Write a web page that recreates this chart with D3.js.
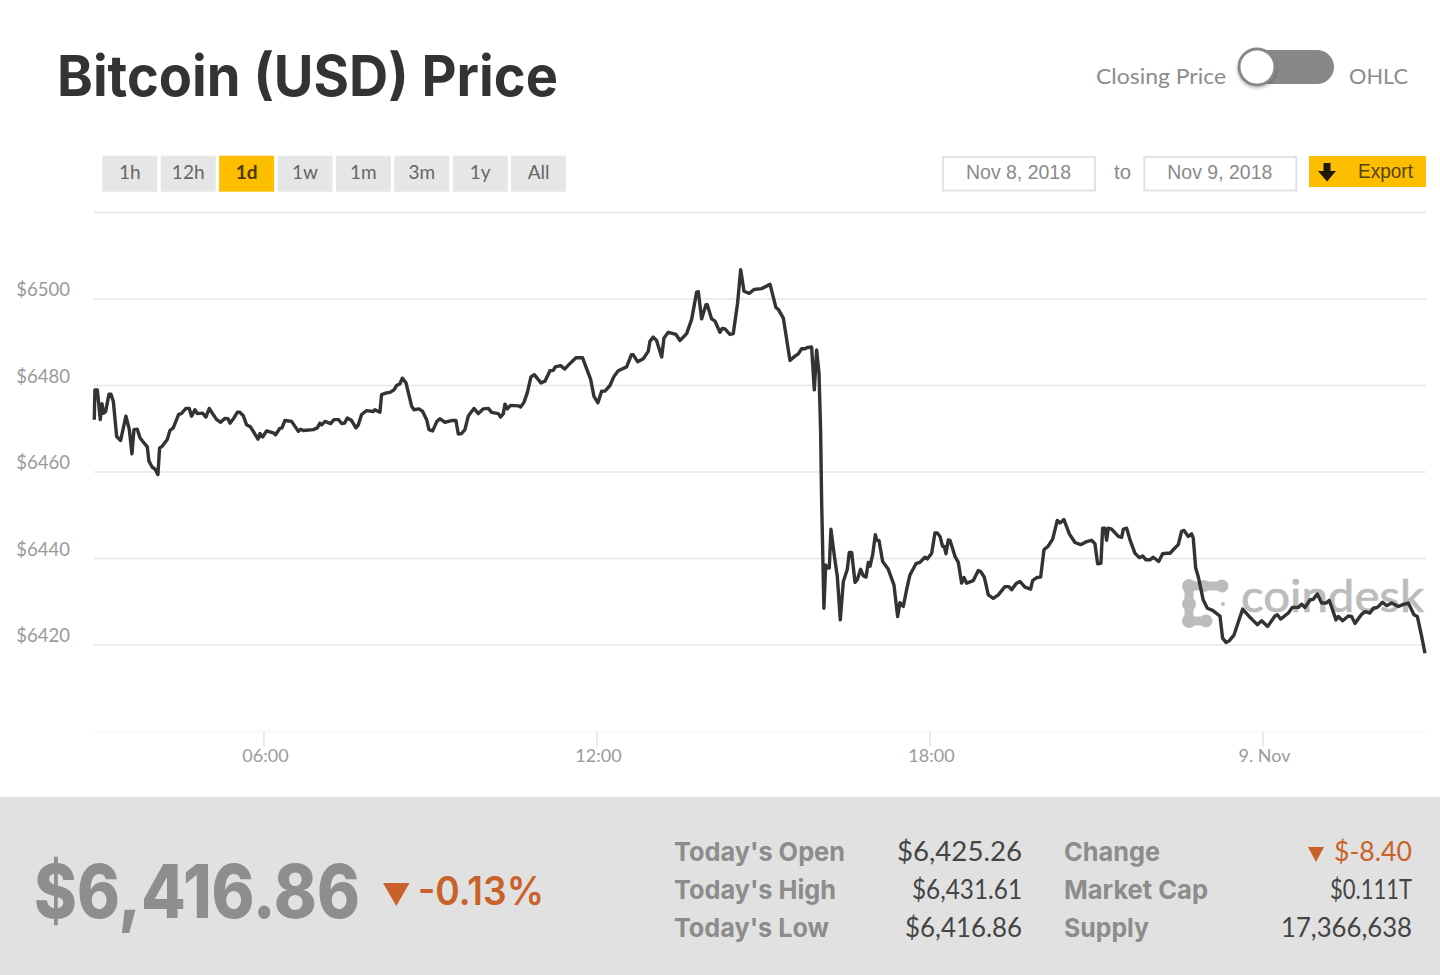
<!DOCTYPE html>
<html>
<head>
<meta charset="utf-8">
<title>Bitcoin (USD) Price</title>
<script src="https://cdn.jsdelivr.net/npm/d3@7"></script>
<style>
  body { margin: 0; background: #fff; }
  svg { display: block; }
  text { font-family: Lato, "Open Sans", sans-serif; }
</style>
</head>
<body>
<div id="chart"></div>
<script>
// Data
// ================================
// minutes since midnight of Nov 8
var minutes = [
  177.1,177.8,180.4,183.6,185.4,187.2,189.4,193.0,195.1,197.7,201.3,205.6,211.3,215.0,217.8,220.0,223.6,226.5,229.4,234.4,
  236.2,239.8,242.7,245.9,247.7,250.3,256.0,258.9,262.5,268.3,271.2,276.2,279.8,282.3,285.9,288.5,294.2,297.8,301.4,305.0,
  309.4,313.7,318.4,321.6,323.8,328.1,331.7,334.6,338.2,341.8,346.1,354.1,356.2,359.1,363.4,371.4,373.1,377.8,380.0,383.2,
  390.4,397.7,400.2,403.1,413.9,418.2,421.1,422.9,426.5,432.6,436.2,441.3,444.5,447.7,450.6,455.3,460.0,462.5,466.1,471.5,
  478.7,480.5,485.9,487.7,493.1,496.8,501.1,504.0,507.6,510.1,514.1,520.2,522.7,528.1,532.1,536.4,538.9,542.9,547.2,550.8,
  556.2,563.4,568.1,570.6,574.2,577.8,581.4,
  583.3,587.6,592.3,597.7,603.1,606.7,613.9,616.4,619.3,621.1,623.6,627.2,635.5,638.0,641.6,645.2,649.2,652.8,660.0,664.3,
  669.7,673.3,675.5,681.3,685.6,691.4,697.8,705.0,713.7,717.3,721.6,725.6,729.2,734.6,738.9,743.6,752.6,757.7,759.8,764.5,
  770.6,776.0,777.8,781.4,785.0,790.5,793.0,797.7,806.0,810.3,817.5,822.9,828.3,830.1,833.7,838.4,839.8,844.5,848.1,853.5,
  856.0,858.9,864.3,867.9,872.6,875.9,879.5,885.2,890.3,898.6,907.6,914.1,916.6,922.0,929.2,934.6,938.2,941.8,945.4,948.0,
  952.6,955.5,958.0,960.6,962.3,
  963.4,965.9,967.8,969.6,971.7,973.5,976.8,980.4,983.6,986.9,991.2,993.3,995.9,999.5,1002.0,1005.6,1008.5,1011.4,1013.9,1015.7,
  1018.6,1021.5,1022.9,1025.4,1029.4,1035.5,1041.6,1045.6,1048.1,1051.7,1055.3,1058.9,1065.4,1069.7,1075.1,1077.7,1082.4,1085.9,1088.5,1091.4,
  1094.2,1096.0,1097.8,1100.4,1102.2,1107.6,1111.2,1114.8,1117.3,1120.2,1127.4,1132.8,1135.3,1139.3,1143.6,1149.0,1154.4,1161.6,1165.9,1168.8,
  1174.2,1177.8,1183.2,1189.4,1191.5,1195.9,1200.2,1203.8,1208.5,1213.2,1218.2,1221.1,1225.4,1231.2,1237.3,1243.4,1249.9,1255.3,1258.9,1261.8,
  1265.4,1267.2,1269.7,1271.5,1273.3,1276.9,1284.2,1287.8,1289.6,1293.2,1296.8,
  1302.2,1306.9,1310.5,1314.1,1318.4,1322.0,1327.8,1332.1,1336.4,1340.0,1344.3,1349.0,1352.6,1355.2,1359.8,1363.4,1365.2,1367.8,1370.6,1376.0,
  1380.4,1386.1,1394.1,1396.9,1400.6,1404.2,1409.2,1418.6,1426.5,1434.4,1439.1,1445.6,1453.5,1456.1,1459.7,1468.0,1472.3,1478.8,1482.4,1486.0,
  1491.4,1495.0,1499.3,1504.0,1508.7,1512.3,1519.5,1522.0,1526.7,1532.8,1536.4,1540.0,1547.2,1550.8,1556.2,1559.8,1564.2,1569.9,1574.3,1579.7,
  1586.9,1592.3,1597.7,1603.8,1607.4,1612.1,1615.7
];

var prices = [
  6472.1,6479.0,6479.0,6472.1,6475.8,6473.6,6474.0,6478.0,6478.0,6476.3,6468.2,6467.3,6472.9,6469.8,6464.2,6469.8,6469.9,6467.9,6467.1,6465.8,
  6462.5,6461.1,6460.7,6459.4,6465.5,6465.9,6467.5,6469.6,6470.2,6473.3,6473.5,6474.7,6474.7,6472.9,6474.4,6473.5,6473.6,6472.7,6474.7,6473.5,
  6472.1,6471.5,6472.4,6472.3,6471.3,6472.5,6473.8,6473.8,6473.0,6470.9,6470.4,6467.6,6468.9,6468.1,6469.5,6469.0,6468.6,6470.1,6470.2,6471.9,
  6471.7,6469.4,6469.9,6469.6,6469.8,6470.2,6471.3,6470.9,6471.7,6471.2,6472.1,6472.1,6471.2,6471.3,6472.5,6471.9,6470.2,6470.9,6473.3,6474.2,
  6474.0,6474.4,6473.8,6477.9,6478.3,6478.4,6479.0,6480.0,6480.4,6481.7,6480.6,6475.2,6474.4,6474.6,6474.0,6472.1,6469.8,6469.5,6471.6,6472.3,
  6471.5,6471.9,6471.9,6468.8,6468.9,6469.8,6472.9,
  6473.5,6474.7,6473.5,6474.6,6474.7,6473.8,6473.5,6472.7,6473.5,6475.7,6474.6,6475.4,6475.3,6475.0,6476.1,6478.3,6482.0,6482.5,6480.6,6481.0,
  6483.4,6483.5,6484.3,6484.6,6483.8,6485.1,6486.4,6486.4,6481.4,6477.5,6476.0,6478.7,6478.7,6480.0,6482.1,6483.4,6484.3,6487.1,6487.1,6485.5,
  6486.2,6487.9,6490.2,6491.2,6490.4,6486.6,6491.0,6492.3,6491.8,6490.4,6492.0,6495.3,6501.6,6501.7,6495.4,6498.7,6498.7,6495.4,6494.9,6492.3,
  6493.2,6493.1,6491.8,6492.0,6499.1,6506.8,6501.8,6501.3,6502.2,6502.4,6503.4,6498.0,6497.6,6495.6,6485.8,6486.8,6487.3,6488.5,6488.5,6488.8,
  6488.9,6479.0,6488.2,6482.9,6469.8,
  6453.6,6428.5,6438.5,6437.8,6437.8,6446.8,6441.2,6435.8,6425.8,6434.7,6437.5,6441.4,6441.4,6434.5,6435.1,6437.5,6436.0,6435.7,6439.1,6438.2,
  6440.9,6445.5,6444.2,6444.2,6439.3,6437.5,6433.9,6426.6,6429.8,6428.9,6432.8,6436.2,6438.8,6439.1,6440.3,6439.9,6441.2,6445.9,6445.9,6445.1,
  6442.8,6442.8,6441.1,6444.3,6444.2,6440.5,6439.1,6434.3,6435.6,6434.3,6434.9,6437.2,6437.0,6435.7,6431.6,6430.8,6431.6,6433.5,6433.5,6432.8,
  6434.3,6434.7,6433.4,6432.9,6434.9,6435.6,6435.7,6442.0,6442.9,6444.5,6448.8,6448.2,6449.0,6445.7,6443.7,6443.2,6443.9,6444.2,6443.4,6438.8,
  6438.9,6447.0,6447.0,6444.2,6447.0,6446.8,6445.1,6444.9,6446.8,6447.0,6444.3,
  6441.2,6440.2,6440.6,6439.7,6439.7,6440.3,6439.3,6441.1,6441.2,6441.2,6442.2,6443.2,6446.3,6446.5,6445.1,6445.7,6444.7,6437.8,6435.8,6430.4,
  6428.5,6428.0,6426.7,6421.6,6420.6,6421.0,6422.3,6428.3,6426.4,6424.7,6425.6,6424.3,6426.7,6427.0,6426.0,6427.4,6428.7,6428.7,6429.4,6428.7,
  6430.4,6430.6,6431.8,6429.7,6429.7,6430.3,6425.8,6426.6,6425.6,6426.7,6426.6,6425.0,6427.1,6427.7,6427.4,6428.5,6428.7,6429.9,6429.1,6429.7,
  6428.9,6429.4,6429.7,6427.0,6426.6,6422.0,6418.1
];

var yTicks = [6420, 6440, 6460, 6480, 6500];
var gridValues = [6400, 6420, 6440, 6460, 6480, 6500, 6520];
var xTicks = [360, 720, 1080, 1440];
var xTickLabels = ["06:00", "12:00", "18:00", "9. Nov"];

var ranges = ["1h", "12h", "1d", "1w", "1m", "3m", "1y", "All"];
var activeRange = "1d";

var statLabelsLeft = ["Today's Open", "Today's High", "Today's Low"];
var statValuesLeft = ["$6,425.26", "$6,431.61", "$6,416.86"];
var statLabelsRight = ["Change", "Market Cap", "Supply"];
var statValuesRight = ["$-8.40", "$0.111T", "17,366,638"];

// Set up our chart
// ================================
var svgWidth = 1440;
var svgHeight = 975;

var plot = { left: 94, right: 1426, top: 212.5, bottom: 731.5 };

var yellow = "#fdbe00";
var orange = "#c8622a";
var heavy = "Inter, Lato, sans-serif";

var svg = d3.select("#chart")
  .append("svg")
  .attr("width", svgWidth)
  .attr("height", svgHeight);

var xScale = d3.scaleLinear()
  .domain([176.8, 1616.8])
  .range([plot.left, plot.right]);

var yScale = d3.scaleLinear()
  .domain([6400, 6520])
  .range([plot.bottom, plot.top]);

// small helper, text pinned to the width it has in the picture
function label(x, y, str, size, color, opts) {
  opts = opts || {};
  var t = svg.append("text")
    .attr("x", x)
    .attr("y", y)
    .attr("font-size", size)
    .attr("fill", color)
    .attr("font-weight", opts.weight || 400)
    .attr("text-anchor", opts.anchor || "start")
    .text(str);
  if (opts.family) t.style("font-family", opts.family);
  if (opts.width) t.attr("textLength", opts.width).attr("lengthAdjust", "spacingAndGlyphs");
  return t;
}

// Header
// ================================
label(57, 96, "Bitcoin (USD) Price", 56, "#333", { weight: 700, width: 501, family: heavy });
label(1096, 84, "Closing Price", 22, "#8c8c8c", { width: 130 });
label(1349, 84, "OHLC", 22, "#8c8c8c", { width: 59 });

var shadow = svg.append("defs").append("filter")
  .attr("id", "knobShadow")
  .attr("x", "-30%").attr("y", "-30%")
  .attr("width", "160%").attr("height", "160%");
shadow.append("feDropShadow")
  .attr("dx", 0).attr("dy", 2)
  .attr("stdDeviation", 1.5)
  .attr("flood-color", "#000")
  .attr("flood-opacity", 0.25);

svg.append("rect")
  .attr("x", 1240).attr("y", 50)
  .attr("width", 94).attr("height", 34)
  .attr("rx", 17)
  .attr("fill", "#888");
svg.append("circle")
  .attr("cx", 1257).attr("cy", 67).attr("r", 18)
  .attr("fill", "#fff")
  .attr("stroke", "#888")
  .attr("stroke-width", 3)
  .attr("filter", "url(#knobShadow)");

// Range buttons
// ================================
var buttons = svg.selectAll(".range-btn")
  .data(ranges)
  .enter()
  .append("g")
  .attr("class", "range-btn")
  .attr("transform", (d, i) => `translate(${102.3 + i * 58.4}, 155.7)`);

buttons.append("rect")
  .attr("width", 55)
  .attr("height", 36)
  .attr("fill", d => d === activeRange ? yellow : "#e6e6e6");

buttons.append("text")
  .attr("x", 27.5)
  .attr("y", 23)
  .attr("text-anchor", "middle")
  .attr("font-size", 19)
  .attr("font-weight", d => d === activeRange ? 700 : 400)
  .attr("fill", d => d === activeRange ? "#4a3a00" : "#666")
  .text(d => d);

// Date inputs and export
// ================================
[[943, "Nov 8, 2018"], [1144.3, "Nov 9, 2018"]].forEach(function(box) {
  svg.append("rect")
    .attr("x", box[0]).attr("y", 157)
    .attr("width", 152).attr("height", 33.5)
    .attr("fill", "#fff")
    .attr("stroke", "#e0e3e6")
    .attr("stroke-width", 2);
  label(box[0] + 75.5, 179, box[1], 20, "#8a8a8a", { anchor: "middle", family: "'Liberation Sans'", width: 105 });
});
label(1114, 179, "to", 20, "#8a8a8a", { family: "'Liberation Sans'", width: 17 });

svg.append("rect")
  .attr("x", 1309).attr("y", 156)
  .attr("width", 117).attr("height", 31)
  .attr("fill", yellow);
svg.append("path")
  .attr("d", "M1323.5 163h7v8h5.5l-9 10.500-9-10.500h5.500z")
  .attr("fill", "#1e1a0a");
label(1358, 178, "Export", 20, "#54430c", { family: "'Liberation Sans'", width: 55 });

// Watermark, sits under the line
// ================================
var logo = svg.append("g")
  .attr("stroke", "#bcbcbc")
  .attr("fill", "#bcbcbc")
  .attr("stroke-linecap", "round");
logo.append("path")
  .attr("d", "M1222 586H1189V621H1206")
  .attr("fill", "none")
  .attr("stroke-width", 9);
[[1189, 586, 7], [1204, 586, 6], [1222, 586, 6.500], [1189, 604, 7], [1189, 621, 7], [1206, 621, 6.500]].forEach(function(c) {
  logo.append("circle").attr("cx", c[0]).attr("cy", c[1]).attr("r", c[2]).attr("stroke", "none");
});
logo.append("circle").attr("cx", 1223).attr("cy", 604).attr("r", 2).attr("stroke", "none");
label(1241, 612, "coindesk", 44, "#bcbcbc", { width: 183 })
  .attr("stroke", "#bcbcbc")
  .attr("stroke-width", 0.7);

// Grid and axes
// ================================
svg.append("g")
  .selectAll("line")
  .data(gridValues)
  .enter()
  .append("line")
  .attr("x1", plot.left)
  .attr("x2", plot.right)
  .attr("y1", d => yScale(d))
  .attr("y2", d => yScale(d))
  .attr("stroke", d => d === 6400 ? "#f6f6f6" : "#e6e6e6")
  .attr("stroke-width", 1.5);

var leftAxis = d3.axisLeft(yScale)
  .tickValues(yTicks)
  .tickSize(0)
  .tickPadding(24)
  .tickFormat(d => "$" + d);

var yAxisGroup = svg.append("g")
  .attr("transform", `translate(${plot.left}, 0)`)
  .call(leftAxis);
yAxisGroup.select(".domain").remove();
yAxisGroup.selectAll("text")
  .attr("font-size", 18.5)
  .attr("fill", "#9a9a9a")
  .attr("dy", -3.5)
  .style("font-family", "Lato, sans-serif");

var bottomAxis = d3.axisBottom(xScale)
  .tickValues(xTicks)
  .tickSize(15)
  .tickPadding(3)
  .tickFormat((d, i) => xTickLabels[i]);

var xAxisGroup = svg.append("g")
  .attr("transform", `translate(0, ${plot.bottom})`)
  .call(bottomAxis);
xAxisGroup.select(".domain").remove();
xAxisGroup.selectAll("line").attr("stroke", "#ccd6eb");
xAxisGroup.selectAll("text")
  .attr("x", 1.5)
  .attr("font-size", 18)
  .attr("fill", "#9a9a9a")
  .style("font-family", "Lato, sans-serif");

// Price line
// ================================
var priceLine = d3.line()
  .x(d => xScale(d[0]))
  .y(d => yScale(d[1]));

svg.append("path")
  .datum(d3.zip(minutes, prices))
  .attr("d", priceLine)
  .attr("fill", "none")
  .attr("stroke", "#333")
  .attr("stroke-width", 3.4)
  .attr("stroke-linejoin", "round");

// Bottom band
// ================================
svg.append("rect")
  .attr("x", 0).attr("y", 797)
  .attr("width", svgWidth).attr("height", svgHeight - 797)
  .attr("fill", "#e1e1e1");

label(34, 918, "$6,416.86", 74, "#8e8e8e", { weight: 800, width: 326, family: heavy });
svg.append("path")
  .attr("d", "M383 883h26.500l-13.200 23z")
  .attr("fill", orange);
label(418, 905, "-0.13%", 39, orange, { weight: 600, width: 126, family: heavy });

var rowY = [861, 899, 937];
var leftLabelWidths = [171, 162, 155];
var leftValueWidths = [125, 110, 117];
var rightLabelWidths = [96, 144, 85];
var rightValueWidths = [78, 82, 131];

rowY.forEach(function(y, i) {
  label(674, y, statLabelsLeft[i], 26, "#8c8c8c", { weight: 700, width: leftLabelWidths[i], family: heavy });
  label(1022, y, statValuesLeft[i], 27, "#444", { anchor: "end", width: leftValueWidths[i] });
  label(1064, y, statLabelsRight[i], 26, "#8c8c8c", { weight: 700, width: rightLabelWidths[i], family: heavy });
  label(1412, y, statValuesRight[i], 27, i === 0 ? orange : "#444", { anchor: "end", width: rightValueWidths[i] });
});

svg.append("path")
  .attr("d", "M1308 847h16l-8 15z")
  .attr("fill", orange);
</script>
</body>
</html>
